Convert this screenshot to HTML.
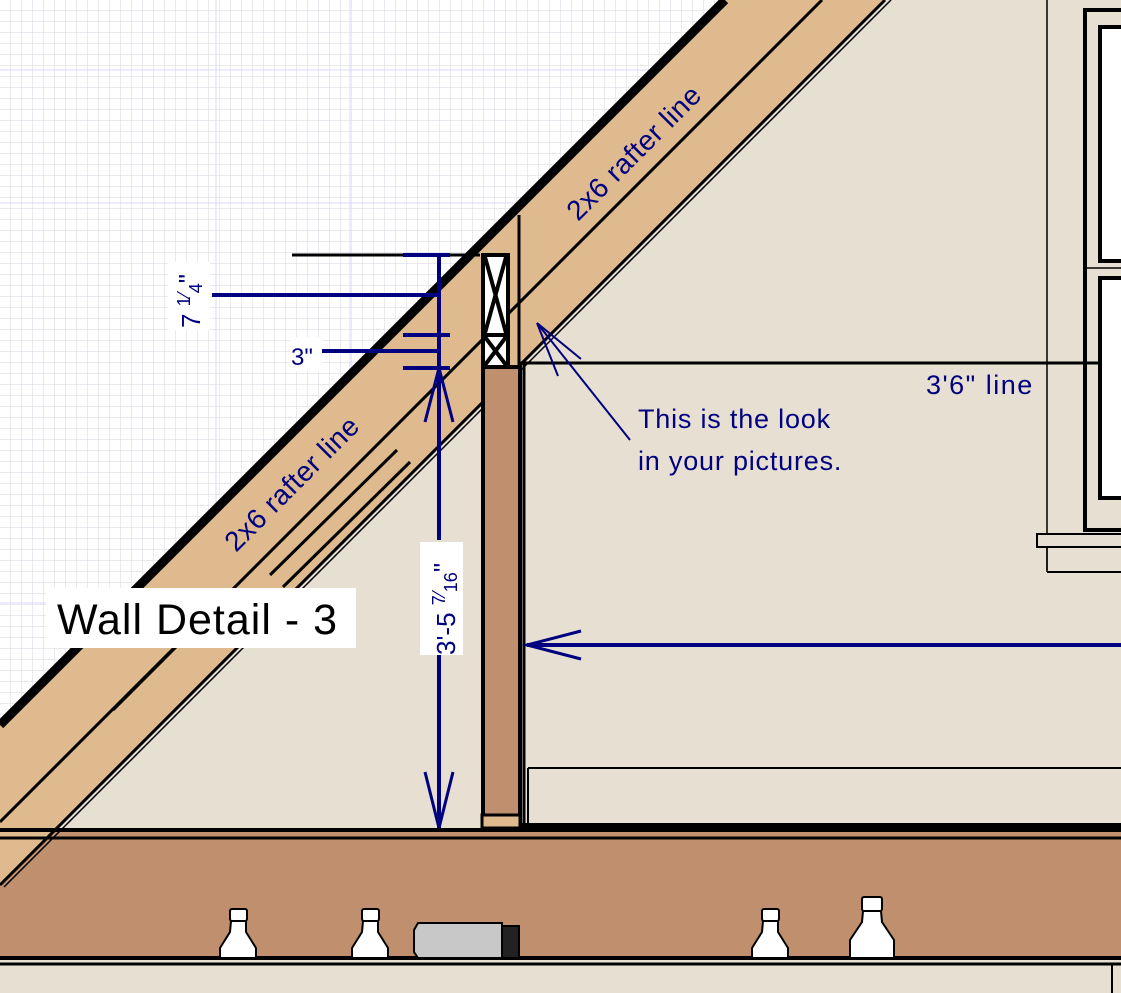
<!DOCTYPE html>
<html><head><meta charset="utf-8"><style>
html,body{margin:0;padding:0;background:#e6dfd2;}
svg{display:block;}
text{font-family:"Liberation Sans",sans-serif;}
</style></head><body>
<svg width="1121" height="993" viewBox="0 0 1121 993" xmlns="http://www.w3.org/2000/svg">
<defs>
<pattern id="g" width="11" height="11" patternUnits="userSpaceOnUse">
<rect width="11" height="11" fill="#fff"/>
<path d="M11 0V11M0 11H11" stroke="#dcdce6" stroke-width="1.2" fill="none"/>
</pattern>
<clipPath id="gc"><polygon points="0,0 725,0 0,725"/></clipPath>
</defs>
<rect width="1121" height="993" fill="#e6dfd2"/>
<polygon points="0,0 725,0 0,725" fill="url(#g)"/>
<g clip-path="url(#gc)" stroke="#d8d8f8" stroke-width="1">
<line x1="216" y1="0" x2="216" y2="725"/><line x1="350" y1="0" x2="350" y2="725"/><line x1="0" y1="70" x2="725" y2="70"/><line x1="0" y1="203" x2="725" y2="203"/><line x1="0" y1="603" x2="725" y2="603"/>
</g>
<rect x="0" y="828" width="1121" height="132" fill="#bf8f6e"/>
<polygon points="0,725 725,0 885,0 0,885" fill="#deba8e"/>
<line x1="0" y1="725" x2="725" y2="0" stroke="#000" stroke-width="9"/>
<line x1="0" y1="822" x2="822" y2="0" stroke="#000" stroke-width="3"/>
<line x1="0" y1="885" x2="885" y2="0" stroke="#000" stroke-width="3"/>
<line x1="4" y1="887" x2="891" y2="0" stroke="#000" stroke-width="1.5"/>
<line x1="270" y1="575" x2="397" y2="450" stroke="#000" stroke-width="3"/>
<line x1="283" y1="587" x2="410" y2="462" stroke="#000" stroke-width="3"/>
<line x1="113" y1="710" x2="180" y2="643" stroke="#000" stroke-width="3"/>
<line x1="0" y1="830" x2="1121" y2="830" stroke="#000" stroke-width="4"/>
<line x1="0" y1="838" x2="1121" y2="838" stroke="#000" stroke-width="3"/>
<line x1="520" y1="826" x2="1121" y2="826" stroke="#000" stroke-width="6"/>
<line x1="0" y1="958" x2="1121" y2="958" stroke="#000" stroke-width="4"/>
<line x1="0" y1="964" x2="1121" y2="964" stroke="#000" stroke-width="3"/>
<line x1="1112" y1="964" x2="1112" y2="993" stroke="#000" stroke-width="2"/>
<line x1="528" y1="768" x2="1121" y2="768" stroke="#000" stroke-width="2"/>
<line x1="528" y1="768" x2="528" y2="824" stroke="#000" stroke-width="2"/>
<rect x="483" y="367" width="37" height="459" fill="#bf8f6e" stroke="#000" stroke-width="4"/>
<rect x="482" y="815" width="38" height="13" fill="#deba8e" stroke="#000" stroke-width="3"/>
<line x1="524" y1="363" x2="524" y2="826" stroke="#000" stroke-width="3"/>
<rect x="483" y="255" width="25" height="112" fill="#fff" stroke="#000" stroke-width="4"/>
<path d="M485 257L506 333M506 257L485 333M485 337L506 365M506 337L485 365" stroke="#000" stroke-width="4"/>
<line x1="483" y1="335" x2="508" y2="335" stroke="#000" stroke-width="4"/>
<line x1="519" y1="215" x2="519" y2="367" stroke="#000" stroke-width="3"/>
<line x1="292" y1="255" x2="480" y2="255" stroke="#000" stroke-width="3"/>
<line x1="520" y1="363" x2="1121" y2="363" stroke="#000" stroke-width="3"/>
<line x1="1047" y1="0" x2="1047" y2="570" stroke="#000" stroke-width="1.5"/>
<rect x="1085" y="10" width="50" height="520" fill="none" stroke="#000" stroke-width="4"/>
<rect x="1100" y="27" width="40" height="234" fill="#fff" stroke="#000" stroke-width="4"/>
<rect x="1100" y="278" width="40" height="220" fill="#fff" stroke="#000" stroke-width="4"/>
<line x1="1085" y1="268" x2="1121" y2="268" stroke="#000" stroke-width="1.5"/>
<rect x="1037" y="534" width="90" height="13" fill="#e6dfd2" stroke="#000" stroke-width="2"/>
<line x1="1047" y1="547" x2="1047" y2="572" stroke="#000" stroke-width="1.5"/>
<line x1="1047" y1="572" x2="1121" y2="572" stroke="#000" stroke-width="2"/>
<g stroke="#000" stroke-width="2" fill="#fff">
<g transform="translate(238,0)"><rect x="-8" y="909" width="17" height="12" rx="2"/><path d="M-7 921H8L8 932 18 948V958H-18V948L-8 932Z"/></g>
<g transform="translate(370,0)"><rect x="-8" y="909" width="17" height="12" rx="2"/><path d="M-7 921H8L8 932 18 948V958H-18V948L-8 932Z"/></g>
<g transform="translate(770,0)"><rect x="-8" y="909" width="17" height="12" rx="2"/><path d="M-7 921H8L8 932 18 948V958H-18V948L-8 932Z"/></g>
<g transform="translate(872,0)"><rect x="-10" y="897" width="20" height="14" rx="2"/><path d="M-9 911H9L10 922 22 940V958H-22V940L-10 922Z"/></g>
<path d="M418 923H502V958H418L414 952V930Z" fill="#c8c8c8"/>
<rect x="502" y="926" width="17" height="32" fill="#222"/>
</g>
<g stroke="#000080" stroke-width="4" fill="none">
<line x1="439" y1="255" x2="439" y2="540"/>
<line x1="439" y1="655" x2="439" y2="828"/>
<line x1="403" y1="255" x2="450" y2="255"/>
<line x1="403" y1="335" x2="450" y2="335"/>
<line x1="403" y1="368" x2="450" y2="368"/>
<line x1="212" y1="295" x2="439" y2="295"/>
<line x1="322" y1="351" x2="439" y2="351"/>
<path d="M425 422L439 368 453 422" stroke-width="3"/>
<path d="M425 772L439 828 453 772" stroke-width="3"/>
<line x1="527" y1="645" x2="1121" y2="645"/>
<path d="M581 631L527 645 581 659" stroke-width="3"/>
</g>
<g stroke="#000080" stroke-width="2">
<line x1="537" y1="323" x2="630" y2="440"/>
<line x1="537" y1="323" x2="581" y2="359"/>
<line x1="537" y1="323" x2="558" y2="376"/>
</g>
<rect x="420" y="542" width="43" height="113" fill="#fff"/>
<rect x="168" y="262" width="42" height="68" fill="#fff"/>
<rect x="290" y="337" width="32" height="34" fill="#fff"/>
<g fill="#000080">
<text transform="translate(455,655) rotate(-90)" font-size="26">3'-5 <tspan font-size="18" dy="-10">7</tspan><tspan font-size="18">⁄</tspan><tspan font-size="18" dy="12">16</tspan><tspan dy="-5">"</tspan></text>
<text transform="translate(200,328) rotate(-90)" font-size="26">7 <tspan font-size="18" dy="-10">1</tspan><tspan font-size="18">⁄</tspan><tspan font-size="18" dy="12">4</tspan><tspan dy="-5">"</tspan></text>
<text x="291" y="365" font-size="24">3"</text>
<text x="638" y="428" font-size="27" letter-spacing="0.8">This is the look</text>
<text x="638" y="470" font-size="27" letter-spacing="0.8">in your pictures.</text>
<text x="926" y="394" font-size="27" letter-spacing="1.5">3'6" line</text>
<text transform="translate(578,222) rotate(-45)" font-size="28" letter-spacing="0.5">2x6 rafter line</text>
<text transform="translate(236,553) rotate(-45)" font-size="28" letter-spacing="0.5">2x6 rafter line</text>
</g>
<rect x="46" y="588" width="310" height="60" fill="#fff"/>
<text x="57" y="634" font-size="43" letter-spacing="1" fill="#000">Wall Detail - 3</text>
</svg>
</body></html>
